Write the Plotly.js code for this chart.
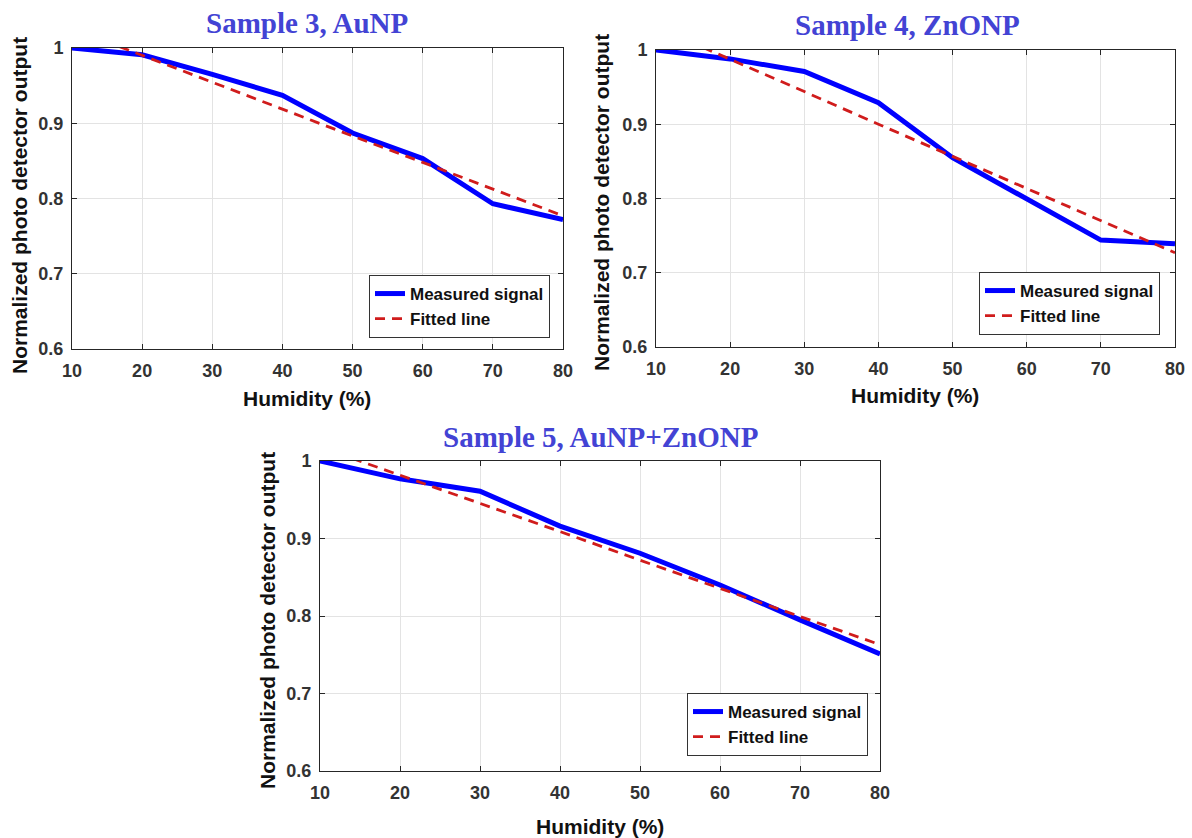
<!DOCTYPE html>
<html><head><meta charset="utf-8">
<script src="https://cdn.plot.ly/plotly-3.0.1.min.js"></script>
<style>html,body{margin:0;padding:0;background:#fff;}#chart{width:1192px;height:838px;}</style>
</head><body><div id="chart"></div>
<script>
const humidity = [10, 20, 30, 40, 50, 60, 70, 80];
const s3Measured = [1.000, 0.991, 0.965, 0.937, 0.887, 0.853, 0.793, 0.772];
const s3Fitted   = [1.026, 0.990, 0.955, 0.919, 0.883, 0.848, 0.812, 0.777];
const s4Measured = [1.000, 0.988, 0.971, 0.929, 0.855, 0.800, 0.744, 0.739];
const s4Fitted   = [1.031, 0.988, 0.944, 0.900, 0.857, 0.813, 0.770, 0.727];
const s5Measured = [1.000, 0.977, 0.961, 0.916, 0.881, 0.840, 0.795, 0.751];
const s5Fitted   = [1.018, 0.982, 0.945, 0.909, 0.872, 0.836, 0.799, 0.763];
const titles = ["Sample 3, AuNP", "Sample 4, ZnONP", "Sample 5, AuNP+ZnONP"];
const seriesNames = ["Measured signal", "Fitted line"];
const xTicks = [10, 20, 30, 40, 50, 60, 70, 80];
const yTicks = [0.6, 0.7, 0.8, 0.9, 1];
const yTickText = ["0.6", "0.7", "0.8", "0.9", "1"];

const W = 1192, H = 838;
const panels = [
  {m: s3Measured, f: s3Fitted, px: [72, 563], py: [48, 349], leg: [550, 338], title: [307, 23], xt: [307, 398], yt: [19, 206]},
  {m: s4Measured, f: s4Fitted, px: [656, 1175], py: [50, 347], leg: [1160, 335], title: [907, 25], xt: [915, 395], yt: [602, 203]},
  {m: s5Measured, f: s5Fitted, px: [320, 880], py: [461, 771], leg: [868, 756], title: [600, 437], xt: [600, 826], yt: [267, 621]}
];

const traces = [];
const layout = {
  width: W, height: H, margin: {l: 0, r: 0, t: 0, b: 0},
  paper_bgcolor: '#fff', plot_bgcolor: '#fff', showlegend: true,
  font: {family: 'Liberation Sans, Arial, sans-serif', color: '#262626'},
  annotations: []
};
const tickFont = {family: 'Liberation Sans, Arial, sans-serif', size: 18, color: '#333333', weight: 'bold'};
panels.forEach((p, i) => {
  const n = i === 0 ? '' : String(i + 1);
  const legName = 'legend' + n;
  traces.push({x: humidity, y: p.m, xaxis: 'x' + n, yaxis: 'y' + n, name: seriesNames[0], mode: 'lines',
    line: {color: '#0000ff', width: 5}, legend: legName});
  traces.push({x: humidity, y: p.f, xaxis: 'x' + n, yaxis: 'y' + n, name: seriesNames[1], mode: 'lines',
    line: {color: '#d01c1c', width: 2.8, dash: '10px,7px'}, legend: legName});
  layout['xaxis' + n] = {domain: [p.px[0] / W, p.px[1] / W], anchor: 'y' + n, range: [10, 80],
    tickvals: xTicks, ticks: 'inside', ticklen: 5, tickcolor: '#262626', showline: true, linecolor: '#262626', linewidth: 1,
    mirror: 'allticks', showgrid: true, gridcolor: '#e3e3e3', zeroline: false, tickfont: tickFont,
    ticklabelstandoff: 5, fixedrange: true};
  layout['yaxis' + n] = {domain: [1 - p.py[1] / H, 1 - p.py[0] / H], anchor: 'x' + n, range: [0.6, 1],
    tickvals: yTicks, ticktext: yTickText, ticks: 'inside', ticklen: 5, tickcolor: '#262626', showline: true, linecolor: '#262626', linewidth: 1,
    mirror: 'allticks', showgrid: true, gridcolor: '#e3e3e3', zeroline: false, tickfont: tickFont,
    ticklabelstandoff: 4, fixedrange: true};
  layout[legName] = {x: p.leg[0] / W, y: 1 - p.leg[1] / H, xanchor: 'right', yanchor: 'bottom',
    bgcolor: '#fff', bordercolor: '#333333', borderwidth: 1,
    font: {family: 'Liberation Sans, Arial, sans-serif', size: 17, color: '#111', weight: 'bold'}, tracegroupgap: 0};
  layout.annotations.push({text: titles[i], xref: 'paper', yref: 'paper', x: p.title[0] / W, y: 1 - p.title[1] / H,
    xanchor: 'center', yanchor: 'middle', showarrow: false,
    font: {family: 'Liberation Serif, Times New Roman, serif', size: 29, color: '#4343d4', weight: 'bold'}});
  layout.annotations.push({text: 'Humidity (%)', xref: 'paper', yref: 'paper', x: p.xt[0] / W, y: 1 - p.xt[1] / H,
    xanchor: 'center', yanchor: 'middle', showarrow: false,
    font: {family: 'Liberation Sans, Arial, sans-serif', size: 21, color: '#111', weight: 'bold'}});
  layout.annotations.push({text: 'Normalized photo detector output', xref: 'paper', yref: 'paper', x: p.yt[0] / W, y: 1 - p.yt[1] / H,
    xanchor: 'center', yanchor: 'middle', showarrow: false, textangle: -90,
    font: {family: 'Liberation Sans, Arial, sans-serif', size: 21, color: '#111', weight: 'bold'}});
});
Plotly.newPlot('chart', traces, layout, {displayModeBar: false, staticPlot: true});
</script></body></html>
